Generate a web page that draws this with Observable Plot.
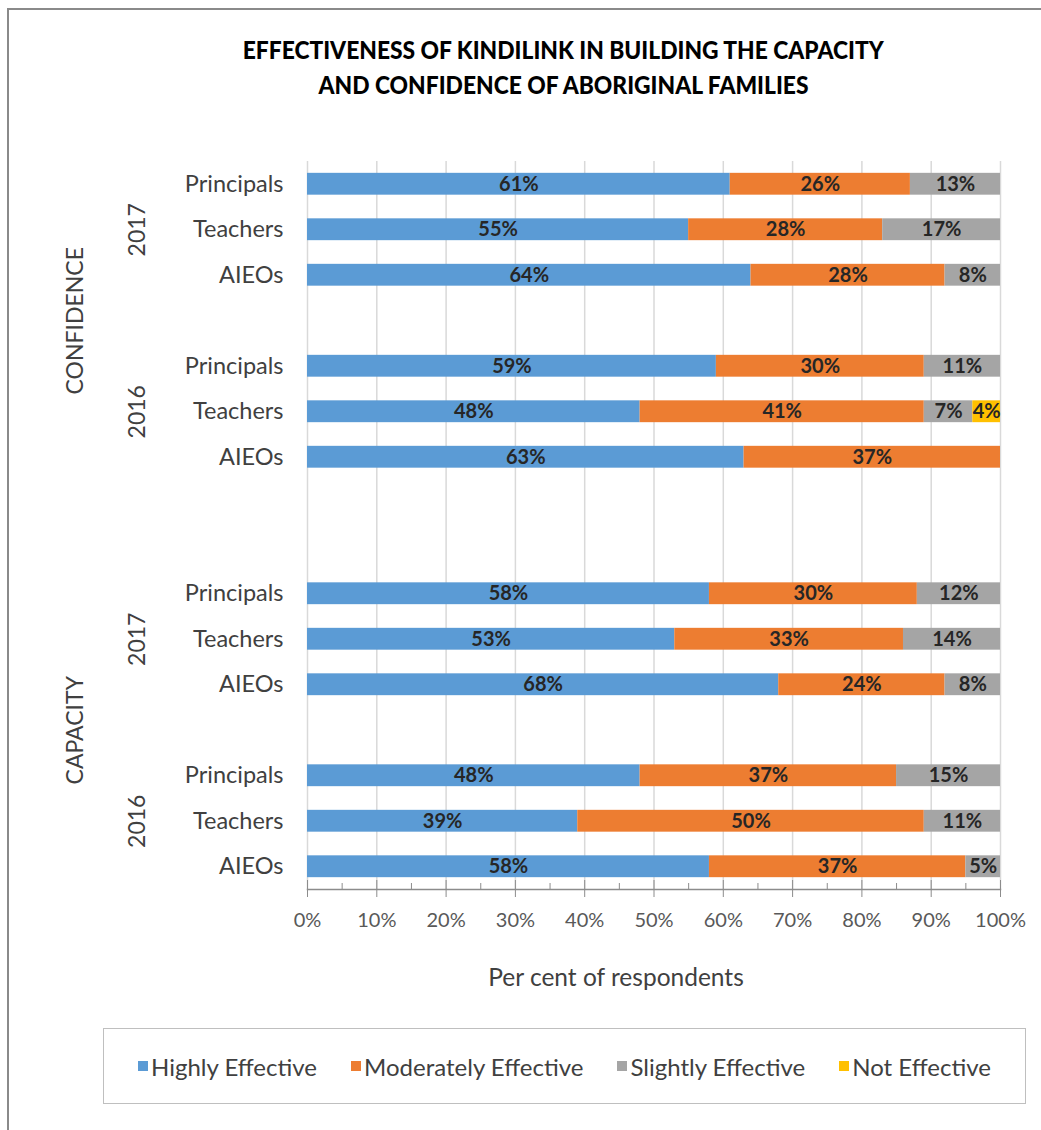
<!DOCTYPE html>
<html>
<head>
<meta charset="utf-8">
<script src="https://cdn.jsdelivr.net/npm/d3@7"></script>
<script src="https://cdn.jsdelivr.net/npm/@observablehq/plot@0.6"></script>
<style>
  html, body { margin: 0; padding: 0; background: #fff; }
  #wrap { position: relative; width: 1041px; height: 1130px; overflow: hidden; font-family: Lato, "Open Sans", sans-serif; }
  #border { position: absolute; left: 7px; top: 8px; right: -10px; bottom: -10px; border-left: 2px solid #8a8a8a; border-top: 2px solid #8a8a8a; }
  #title { position: absolute; left: 0; width: 1126px; top: 32px; text-align: center; font-family: Lato, sans-serif; font-weight: 900; font-size: 25px; line-height: 35px; color: #000; }
  #title span { display: inline-block; white-space: nowrap; transform-origin: center; }
  #chart { position: absolute; left: 0; top: 0; }
  #legend { position: absolute; left: 103px; top: 1028px; width: 921px; height: 74px; border: 1px solid #bfbfbf; display: flex; align-items: center; justify-content: space-evenly; font-size: 24px; color: #404040; box-sizing: content-box; }
  .item { display: flex; align-items: center; white-space: nowrap; }
  .sw { width: 10px; height: 10px; margin-right: 3px; display: inline-block; }
</style>
</head>
<body>
<div id="wrap">
  <div id="border"></div>
  <div id="title"><span id="t1">EFFECTIVENESS OF KINDILINK IN BUILDING THE CAPACITY</span><br><span id="t2">AND CONFIDENCE OF ABORIGINAL FAMILIES</span></div>
  <div id="chart"></div>
  <div id="legend"></div>
</div>
<script>
// ---- data ----
const categories = ["Highly Effective", "Moderately Effective", "Slightly Effective", "Not Effective"];
const colors = ["#5B9BD5", "#ED7D31", "#A5A5A5", "#FFC000"];
const roles = ["Principals", "Teachers", "AIEOs"];
const measures = ["CONFIDENCE", "CAPACITY"];
const years = ["2017", "2016"];
// values per role [Principals, Teachers, AIEOs], each [Highly, Moderately, Slightly, Not]
const confidence2017 = [[61, 26, 13, 0], [55, 28, 17, 0], [64, 28, 8, 0]];
const confidence2016 = [[59, 30, 11, 0], [48, 41, 7, 4], [63, 37, 0, 0]];
const capacity2017 = [[58, 30, 12, 0], [53, 33, 14, 0], [68, 24, 8, 0]];
const capacity2016 = [[48, 37, 15, 0], [39, 50, 11, 0], [58, 37, 5, 0]];
const xTicks = [0, 10, 20, 30, 40, 50, 60, 70, 80, 90, 100];
const xMinorTicks = [5, 15, 25, 35, 45, 55, 65, 75, 85, 95];
const xLabel = "Per cent of respondents";

// ---- build rows ----
const blocks = [
  {measure: "CONFIDENCE", year: "2017", values: confidence2017},
  {measure: "CONFIDENCE", year: "2016", values: confidence2016},
  {measure: "CAPACITY", year: "2017", values: capacity2017},
  {measure: "CAPACITY", year: "2016", values: capacity2016}
];
const domain = [];
const roleOf = {};
const segs = [];
const yearLabels = [];
const measureLabels = [];
const gapsAfter = [1, 2, 1, 0]; // blank rows after each block
blocks.forEach((b, bi) => {
  roles.forEach((r, ri) => {
    const key = `${b.measure}|${b.year}|${r}`;
    domain.push(key);
    roleOf[key] = r;
    b.values[ri].forEach((v, ci) => {
      if (v > 0) segs.push({key, category: categories[ci], value: v});
    });
  });
  yearLabels.push({key: `${b.measure}|${b.year}|${roles[1]}`, text: b.year});
  for (let g = 0; g < gapsAfter[bi]; g++) {
    const gk = `gap${bi}-${g}`;
    domain.push(gk);
    roleOf[gk] = "";
  }
});
measureLabels.push({key: "gap0-0", text: measures[0]});
measureLabels.push({key: "gap2-0", text: measures[1]});

const plot = Plot.plot({
  width: 1041,
  height: 1010,
  marginTop: 161,
  marginBottom: 121,
  marginLeft: 307,
  marginRight: 41,
  style: {fontFamily: "Lato, 'Open Sans', sans-serif", fontSize: "20px", background: "transparent", overflow: "visible"},
  x: {domain: [0, 100]},
  y: {type: "band", domain, paddingInner: 0.52, paddingOuter: 0.26, round: false},
  color: {domain: categories, range: colors},
  marks: [
    Plot.gridX(xTicks, {stroke: "#d9d9d9", strokeOpacity: 1, strokeWidth: 1.5}),
    Plot.barX(segs, Plot.stackX({x: "value", y: "key", fill: "category", order: categories})),
    Plot.text(segs, Plot.stackX({x: "value", y: "key", z: "category", order: categories, text: d => d.value + "%", fontWeight: "bold", fontSize: 20, fill: "#262626"})),
    Plot.frame({anchor: "bottom", stroke: "#8c8c8c", strokeWidth: 1.5}),
    Plot.axisX(xTicks, {tickSize: 8, tickPadding: 15, tickFormat: d => d + "%", fontSize: 20, color: "#595959", stroke: "#8c8c8c", label: null}),
    Plot.axisX(xTicks, {tickSize: -9, tickFormat: () => "", stroke: "#8c8c8c", label: null}),
    Plot.axisX(xMinorTicks, {tickSize: -6, tickFormat: () => "", stroke: "#8c8c8c", label: null}),
    Plot.axisY(domain.filter(k => roleOf[k]), {tickSize: 0, tickPadding: 24, tickFormat: k => roleOf[k], fontSize: 23.5, color: "#404040", label: null}),
    Plot.text(yearLabels, {y: "key", text: "text", frameAnchor: "left", textAnchor: "middle", dx: -170, rotate: -90, fontSize: 23, fill: "#404040"}),
    Plot.text(measureLabels, {y: "key", text: "text", frameAnchor: "left", textAnchor: "middle", dx: -232, rotate: -90, fontSize: 23, fill: "#404040"}),
    Plot.text([xLabel], {text: d => d, frameAnchor: "bottom", dx: -38, dy: 96, fontSize: 24.5, fill: "#404040"})
  ]
});
document.getElementById("chart").appendChild(plot);

// ---- title: condense to the reference line width ----
const t1 = document.getElementById("t1"), t2 = document.getElementById("t2");
const s = 641 / t1.getBoundingClientRect().width;
t1.style.transform = `scaleX(${s})`;
t2.style.transform = `scaleX(${s})`;

// ---- legend ----
const legend = document.getElementById("legend");
categories.forEach((c, i) => {
  const item = document.createElement("div");
  item.className = "item";
  item.innerHTML = `<span class="sw" style="background:${colors[i]}"></span><span>${c}</span>`;
  legend.appendChild(item);
});
</script>
</body>
</html>
